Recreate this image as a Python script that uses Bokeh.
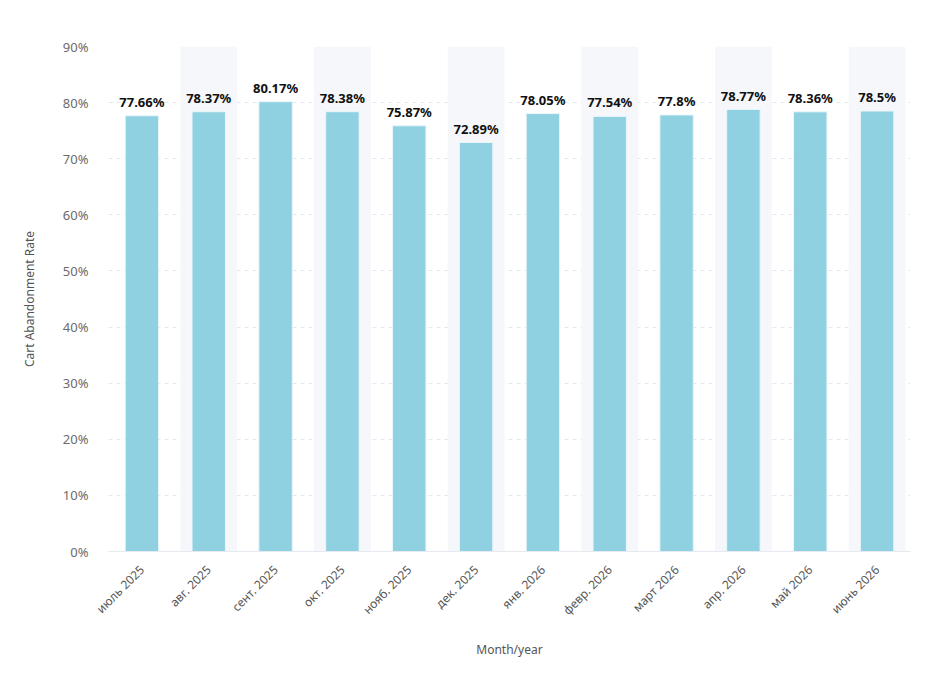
from math import pi
from bokeh.plotting import figure
from bokeh.models import ColumnDataSource, SingleIntervalTicker, PrintfTickFormatter, Range1d, LabelSet
from bokeh.core.properties import value
from bokeh.embed import file_html
from bokeh.resources import INLINE

months = ["июль 2025", "авг. 2025", "сент. 2025", "окт. 2025", "нояб. 2025", "дек. 2025",
          "янв. 2026", "февр. 2026", "март 2026", "апр. 2026", "май 2026", "июнь 2026"]
rates = [77.66, 78.37, 80.17, 78.38, 75.87, 72.89, 78.05, 77.54, 77.8, 78.77, 78.36, 78.5]
labels = ["77.66%", "78.37%", "80.17%", "78.38%", "75.87%", "72.89%",
          "78.05%", "77.54%", "77.8%", "78.77%", "78.36%", "78.5%"]

FONT = "Noto Sans"

src = ColumnDataSource(dict(month=months, rate=rates, label=labels))
band_months = months[1::2]
band_src = ColumnDataSource(dict(month=band_months, top=[90] * len(band_months)))

p = figure(x_range=months, y_range=Range1d(0, 90), width=940, height=685,
           output_backend="svg", toolbar_location=None,
           min_border_left=108, min_border_right=30, min_border_top=46, min_border_bottom=134)
p.outline_line_color = None
p.background_fill_color = "white"

p.vbar(x="month", top="top", bottom=0, width=0.85, source=band_src,
       fill_color="#f5f7fb", line_color=None)
p.vbar(x="month", top="rate", width=0.5, source=src,
       fill_color="#90d1e1", line_color="#e8f6fa", line_width=1)

lbl = LabelSet(x="month", y="rate", text="label", source=src, text_align="center",
               text_baseline="bottom", y_offset=5, text_font=value(FONT), text_font_size="13px",
               text_font_style="bold", text_color="#111111")
p.add_layout(lbl)

p.xgrid.grid_line_color = None
p.ygrid.grid_line_color = "#e1e8f1"
p.ygrid.grid_line_dash = "4 4"
p.ygrid.grid_line_width = 1

p.yaxis.ticker = SingleIntervalTicker(interval=10)
p.yaxis.formatter = PrintfTickFormatter(format="%d%%")
p.yaxis.axis_line_color = None
p.yaxis.major_tick_line_color = None
p.yaxis.minor_tick_line_color = None
p.yaxis.major_label_text_font = FONT
p.yaxis.major_label_text_font_size = "13px"
p.yaxis.major_label_text_color = "#6b6b6b"
p.yaxis.major_label_standoff = 14
p.yaxis.axis_label = "Cart Abandonment Rate"
p.yaxis.axis_label_text_font = FONT
p.yaxis.axis_label_text_font_size = "12px"
p.yaxis.axis_label_text_font_style = "normal"
p.yaxis.axis_label_text_color = "#555555"
p.yaxis.axis_label_standoff = 22

p.xaxis.axis_line_color = "#e6e9ef"
p.xaxis.major_tick_line_color = None
p.xaxis.minor_tick_line_color = None
p.xaxis.major_label_orientation = pi / 4
p.xaxis.major_label_text_font = FONT
p.xaxis.major_label_text_font_size = "12px"
p.xaxis.major_label_text_color = "#555555"
p.xaxis.major_label_standoff = 10
p.xaxis.axis_label = "Month/year"
p.xaxis.axis_label_text_font = FONT
p.xaxis.axis_label_text_font_size = "12px"
p.xaxis.axis_label_text_font_style = "normal"
p.xaxis.axis_label_text_color = "#555555"
p.xaxis.axis_label_standoff = 14

open("out.html", "w").write(file_html(p, INLINE))
